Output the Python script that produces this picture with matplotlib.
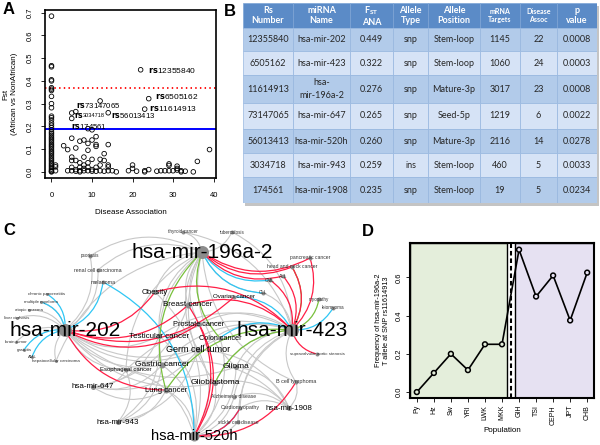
import numpy as np
import matplotlib.pyplot as plt
from matplotlib.patches import Rectangle, FancyArrowPatch

plt.rcParams['font.family'] = ['Liberation Sans', 'DejaVu Sans']

# ---------------- data ----------------
# panel B table (also the labelled points of panel A)
rs_number = ['12355840', '6505162', '11614913', '73147065', '56013413', '3034718', '174561']
mirna_name = ['hsa-mir-202', 'hsa-mir-423', 'hsa-\nmir-196a-2', 'hsa-mir-647',
              'hsa-mir-520h', 'hsa-mir-943', 'hsa-mir-1908']
fst_ana = [0.449, 0.322, 0.276, 0.265, 0.260, 0.259, 0.235]
allele_type = ['snp', 'snp', 'snp', 'snp', 'snp', 'ins', 'snp']
allele_pos = ['Stem-loop', 'Stem-loop', 'Mature-3p', 'Seed-5p', 'Mature-3p', 'Stem-loop', 'Stem-loop']
mrna_targets = [1145, 1060, 3017, 1219, 2116, 460, 19]
disease_assoc = [22, 24, 23, 6, 14, 5, 5]
p_value = ['0.0008', '0.0003', '0.0008', '0.0022', '0.0278', '0.0033', '0.0234']
table_header = ['Rs\nNumber', 'miRNA\nName', 'F$_{\\mathregular{ST}}$\nANA', 'Allele\nType',
                'Allele\nPosition', 'mRNA\nTargets', 'Disease\nAssoc', 'p\nvalue']

# panel A: remaining SNPs
fst_zero_assoc = [0.685, 0.467, 0.462, 0.405, 0.400, 0.370, 0.364, 0.358, 0.332, 0.300,
                  0.282, 0.245, 0.238, 0.228, 0.215, 0.205, 0.195, 0.185, 0.175, 0.168,
                  0.160, 0.152, 0.145, 0.138, 0.130, 0.122, 0.115, 0.108, 0.100, 0.092,
                  0.085, 0.078, 0.070, 0.062, 0.055, 0.048, 0.040, 0.033, 0.026, 0.019,
                  0.012, 0.006, 0.002, 0.0]
assoc_other = [1, 1, 1, 3, 4, 4, 5, 5, 5, 5, 5, 6, 6, 6, 6, 7, 7, 7, 7, 7,
               8, 8, 8, 8, 8, 9, 9, 9, 9, 9, 9, 10, 10, 10, 10, 10, 11, 11, 11, 11, 11,
               12, 12, 12, 12, 13, 13, 13, 14, 14, 14, 14, 15, 16, 19, 20, 20, 21,
               23, 23, 24, 26, 27, 28, 29, 29, 29, 30, 31, 31, 31, 32, 32, 33, 35, 36, 39]
fst_other = [0.030, 0.022, 0.005, 0.115, 0.098, 0.005, 0.148, 0.065, 0.050, 0.020, 0.005,
             0.105, 0.050, 0.010, 0.003, 0.135, 0.040, 0.020, 0.005, 0.000,
             0.140, 0.065, 0.030, 0.015, 0.005, 0.190, 0.125, 0.095, 0.040, 0.020, 0.005,
             0.185, 0.140, 0.055, 0.010, 0.003, 0.155, 0.120, 0.112, 0.020, 0.003,
             0.312, 0.055, 0.030, 0.005, 0.080, 0.050, 0.003, 0.120, 0.030, 0.022, 0.005,
             0.005, 0.000, 0.005, 0.030, 0.015, 0.003,
             0.005, 0.000, 0.010, 0.003, 0.005, 0.005, 0.035, 0.028, 0.005, 0.005,
             0.025, 0.015, 0.008, 0.005, 0.000, 0.003, 0.000, 0.046, 0.098]
fst_mean = 0.187
fst_cut = 0.367

# panel D
populations = ['Py', 'Hz', 'Sw', 'YRI', 'LWK', 'MKK', 'GIH', 'TSI', 'CEPH', 'JPT', 'CHB']
t_freq = [0.0, 0.10, 0.20, 0.115, 0.25, 0.25, 0.745, 0.50, 0.61, 0.375, 0.625]
n_african = 6

# panel C network
edges_red = [('hsa-mir-202', 'Obesity'), ('hsa-mir-202', 'Breast cancer'),
             ('hsa-mir-202', 'Prostate cancer'), ('hsa-mir-202', 'Ovarian cancer'),
             ('hsa-mir-202', 'Lung cancer'),
             ('hsa-mir-196a-2', 'pancreatic cancer'), ('hsa-mir-196a-2', 'ALL'),
             ('hsa-mir-196a-2', 'head and neck cancer'),
             ('hsa-mir-423', 'pancreatic cancer'), ('hsa-mir-423', 'head and neck cancer'),
             ('hsa-mir-423', 'ALL'), ('hsa-mir-423', 'CML'),
             ('hsa-mir-423', 'supravalvular aortic stenosis'), ('hsa-mir-423', 'Breast cancer'),
             ('hsa-mir-423', 'Obesity'),
             ('hsa-mir-520h', 'Cardiomyopathy'), ('hsa-mir-520h', 'B cell lymphoma'),
             ('hsa-mir-520h', 'Breast cancer'), ('hsa-mir-520h', 'Prostate cancer')]
edges_blue = [('hsa-mir-202', 'chronic pancreatitis'), ('hsa-mir-202', 'multiple myeloma'),
              ('hsa-mir-202', 'melanoma'), ('hsa-mir-202', 'gastritis'), ('hsa-mir-202', 'AML'),
              ('hsa-mir-520h', 'melanoma'), ('hsa-mir-520h', 'Cardiomyopathy'),
              ('hsa-mir-196a-2', 'CML'), ('hsa-mir-196a-2', 'CLL'),
              ('hsa-mir-423', 'leiomyoma'), ('hsa-mir-423', 'Ovarian cancer'),
              ('hsa-mir-423', 'Colon cancer')]
edges_green = [('hsa-mir-196a-2', 'Colon cancer'), ('hsa-mir-196a-2', 'Lung cancer'),
               ('hsa-mir-423', 'head and neck cancer'), ('hsa-mir-423', 'myopathy'),
               ('hsa-mir-423', 'Lung cancer'), ('hsa-mir-423', 'Glioblastoma')]
gray_links = {
    'hsa-mir-196a-2': ['psoriasis', 'renal cell carcinoma', 'thyroid cancer', 'tuberculosis',
                       'Obesity', 'Breast cancer', 'Testicular cancer', 'Gastric cancer',
                       'Germ cell tumor', 'Esophageal cancer', 'Glioma', 'Glioblastoma',
                       'Prostate cancer', 'hepatocellular carcinoma', 'CLL', 'B cell lymphoma'],
    'hsa-mir-202': ['psoriasis', 'renal cell carcinoma', 'atopic eczema', 'liver cirrhosis',
                    'brain tumor', 'hepatocellular carcinoma', 'Testicular cancer',
                    'Germ cell tumor', 'Gastric cancer', 'Esophageal cancer', 'Glioma',
                    'Colon cancer', 'Glioblastoma', 'multiple myeloma'],
    'hsa-mir-423': ['Testicular cancer', 'Germ cell tumor', 'Gastric cancer', 'Glioma',
                    'Glioblastoma', 'Cardiomyopathy', "Alzheimer's disease",
                    'sickle cell disease', 'B cell lymphoma', 'Prostate cancer',
                    'thyroid cancer', 'tuberculosis', 'CLL', 'Esophageal cancer'],
    'hsa-mir-520h': ['Lung cancer', 'Gastric cancer', 'Esophageal cancer', 'Germ cell tumor',
                     'Testicular cancer', 'Glioma', 'Glioblastoma', 'sickle cell disease',
                     "Alzheimer's disease", 'Colon cancer', 'Obesity'],
    'hsa-mir-647': ['Gastric cancer', 'Esophageal cancer', 'Lung cancer', 'Testicular cancer',
                    'Germ cell tumor', 'Breast cancer'],
    'hsa-mir-943': ['Lung cancer', 'Gastric cancer', 'Esophageal cancer', 'Germ cell tumor',
                    'Testicular cancer'],
    'hsa-mir-1908': ['B cell lymphoma', 'Glioma', 'Germ cell tumor', 'Cardiomyopathy',
                     "Alzheimer's disease", 'Glioblastoma', 'Gastric cancer'],
}

# ---------------- layout (pixel space of the 600x445 figure) ----------------
# name: (x, y, label size pt, node diameter px)
layout = {
    'hsa-mir-196a-2': (202, 252, 15, 13), 'hsa-mir-202': (65, 330, 15, 13),
    'hsa-mir-423': (292, 330, 15, 13), 'hsa-mir-520h': (194, 436, 10.5, 10),
    'hsa-mir-647': (93, 387, 5.8, 5), 'hsa-mir-943': (118, 422, 5.8, 5),
    'hsa-mir-1908': (289, 408, 5.8, 5),
    'Obesity': (155, 292, 5.5, 5), 'Breast cancer': (188, 305, 5.8, 6),
    'Prostate cancer': (199, 324, 5.3, 5), 'Ovarian cancer': (234, 297, 4.5, 4),
    'Colon cancer': (220, 338, 5.2, 5), 'Testicular cancer': (159, 336, 5.8, 5),
    'Germ cell tumor': (198, 350, 6.5, 5), 'Gastric cancer': (162, 365, 6.0, 6),
    'Esophageal cancer': (126, 370, 4.3, 4), 'Lung cancer': (166, 390, 5.5, 6),
    'Glioma': (236, 367, 6.0, 5), 'Glioblastoma': (215, 383, 6.0, 5),
    "Alzheimer's disease": (234, 397, 3.6, 4), 'Cardiomyopathy': (240, 408, 3.8, 4),
    'sickle cell disease': (238, 422, 3.6, 4), 'B cell lymphoma': (296, 382, 4.0, 4),
    'supravalvular aortic stenosis': (317, 354, 3.2, 4), 'myopathy': (319, 299, 3.3, 4),
    'leiomyoma': (333, 308, 3.3, 4), 'pancreatic cancer': (310, 258, 3.6, 4),
    'head and neck cancer': (292, 267, 3.6, 4), 'ALL': (283, 276, 3.3, 4),
    'CML': (270, 280, 3.3, 4), 'CLL': (263, 293, 3.3, 4),
    'thyroid cancer': (183, 232, 3.3, 4), 'tuberculosis': (232, 232, 3.3, 4),
    'psoriasis': (90, 256, 3.3, 4), 'renal cell carcinoma': (98, 270, 3.8, 4),
    'melanoma': (103, 282, 3.8, 4), 'chronic pancreatitis': (47, 294, 3.2, 3),
    'multiple myeloma': (41, 302, 3.2, 3), 'atopic eczema': (29, 310, 3.2, 3),
    'liver cirrhosis': (17, 318, 3.2, 3), 'brain tumor': (16, 342, 3.2, 3),
    'gastritis': (24, 350, 3.2, 3), 'AML': (32, 357, 3.2, 3),
    'hepatocellular carcinoma': (56, 361, 3.2, 3),
}

W, H = 600, 445
fig = plt.figure(figsize=(W / 100, H / 100), dpi=100)


def box(x0, y0, x1, y1):
    # axes from pixel corners, origin top-left
    return fig.add_axes([x0 / W, 1 - y1 / H, (x1 - x0) / W, (y1 - y0) / H])


# ---------------- C: network ----------------
axC = fig.add_axes([0, 0, 1, 1])
axC.set_xlim(0, W)
axC.set_ylim(H, 0)
axC.axis('off')

edge_sets = [([(m, d) for m, ds in gray_links.items() for d in ds], '#c8c8c8', 0.8),
             (edges_blue, '#2fc6f4', 0.9), (edges_green, '#78c03c', 0.9),
             (edges_red, '#ff1e46', 0.9)]
for elist, col, lw in edge_sets:
    for a, b in elist:
        pa, pb = layout[a][:2], layout[b][:2]
        axC.add_patch(FancyArrowPatch(pa, pb, arrowstyle='-', connectionstyle='arc3,rad=0.3',
                                      color=col, lw=lw, shrinkA=0, shrinkB=0, zorder=1))

for name, (x, y, fs, d) in layout.items():
    axC.scatter([x], [y], s=(d * 0.72) ** 2, color='#8c8c8c', lw=0, zorder=2)
for name, (x, y, fs, d) in layout.items():
    axC.text(x, y, name, fontsize=fs, ha='center', va='center',
             color='black' if fs > 4.2 else '#333333', zorder=3)

# ---------------- A: scatter ----------------
axA = box(45, 10, 216, 178)
axA.scatter(np.zeros(len(fst_zero_assoc)), fst_zero_assoc, s=11, facecolors='none',
            edgecolors='black', linewidths=0.6, zorder=3)
axA.scatter(assoc_other, fst_other, s=11, facecolors='none', edgecolors='black',
            linewidths=0.6, zorder=3)
axA.scatter(disease_assoc, fst_ana, s=11, facecolors='none', edgecolors='black',
            linewidths=0.6, zorder=3)
axA.axhline(fst_mean, color='#0000ff', lw=1.4, zorder=2)
axA.axhline(fst_cut, color='#ff0000', lw=1.3, ls=(0, (0.8, 1.8)), zorder=2)

label_offsets = [(5, 0), (4.5, 2), (3, 0.5), (0.5, 4.6), (2, -1.3), (1.5, -1.4), (-0.5, -5.2)]
for i, rs in enumerate(rs_number):
    dx, dy = label_offsets[i]
    small = rs == '3034718'
    axA.annotate(r'$\mathbf{rs}$' + ('' if small else rs),
                 (disease_assoc[i], fst_ana[i]), xytext=(dx, dy), textcoords='offset points',
                 fontsize=5.6 if i > 2 else 6, va='center', ha='left')
    if small:
        axA.annotate(rs, (disease_assoc[i], fst_ana[i]), xytext=(dx + 6.6, dy - 0.3),
                     textcoords='offset points', fontsize=4.0, va='center', ha='left')

axA.set_xlim(-1.6, 40.6)
axA.set_ylim(-0.027, 0.712)
axA.set_xticks([0, 10, 20, 30, 40])
axA.set_yticks(np.arange(0, 0.71, 0.1))
axA.set_yticklabels([f'{v:.1f}' for v in np.arange(0, 0.71, 0.1)], rotation=90, va='center')
axA.tick_params(labelsize=5.5, length=3, width=0.6, pad=5)
axA.tick_params(axis='x', pad=7)
for s in axA.spines.values():
    s.set_linewidth(1.2)
axA.set_xlabel('Disease Association', fontsize=5.8, labelpad=7)
axA.set_ylabel('Fst\n(African vs NonAfrican)', fontsize=5.8)
axA.yaxis.set_label_coords(-0.16, 0.5)

# ---------------- B: table ----------------
col_w = [50, 57, 43, 35, 52, 40, 37, 40]
row_h = [25, 23, 24, 28, 26, 24, 24, 26]
xb = np.concatenate([[0], np.cumsum(col_w)])
yb = np.concatenate([[0], np.cumsum(row_h)])
axB = box(243, 3, 243 + xb[-1], 3 + yb[-1])
axB.set_xlim(0, xb[-1])
axB.set_ylim(yb[-1], 0)
axB.axis('off')
axB.add_patch(Rectangle((2, 3), xb[-1], yb[-1], fc='#c4c4c4', ec='none', clip_on=False, zorder=0))

rows = list(zip(rs_number, mirna_name, [f'{v:.3f}' for v in fst_ana], allele_type,
                allele_pos, [str(v) for v in mrna_targets], [str(v) for v in disease_assoc],
                p_value))
tfont = ['Lato', 'DejaVu Sans']
for j, h in enumerate(table_header):
    axB.add_patch(Rectangle((xb[j], yb[0]), col_w[j], row_h[0], fc='#5b8bc7',
                            ec='#7ea5d6', lw=0.5, zorder=1))
    axB.text(xb[j] + col_w[j] / 2, row_h[0] / 2, h, ha='center', va='center', color='white',
             fontweight='bold', fontsize=5 if j in (5, 6) else 6.5, family=tfont,
             linespacing=1.1, zorder=2)
for i, r in enumerate(rows):
    fc = '#b2cbea' if i % 2 == 0 else '#d6e3f6'
    for j, val in enumerate(r):
        axB.add_patch(Rectangle((xb[j], yb[i + 1]), col_w[j], row_h[i + 1], fc=fc,
                                ec='#97b7e0', lw=0.5, zorder=1))
        axB.text(xb[j] + col_w[j] / 2, yb[i + 1] + row_h[i + 1] / 2, val, ha='center',
                 va='center', fontsize=6.5, color='#262626', family=tfont, linespacing=1.5,
                 zorder=2)

# ---------------- D: allele frequency by population ----------------
axD = box(410, 243, 594, 398)
xs = np.arange(len(populations))
x_lo, x_hi, y_lo, y_hi = -0.4, 10.4, -0.031, 0.78
axD.set_xlim(x_lo, x_hi)
axD.set_ylim(y_lo, y_hi)
axD.add_patch(Rectangle((x_lo, y_lo), 5.3 - x_lo, y_hi - y_lo, fc='#e4eedb', ec='black',
                        lw=1.0, zorder=0))
axD.add_patch(Rectangle((5.75, y_lo), x_hi - 5.75, y_hi - y_lo, fc='#e6e1f2', ec='black',
                        lw=1.0, zorder=0))
axD.axvline(n_african - 0.5, color='black', lw=1.5, ls=(0, (2.2, 1.4)), zorder=1)
axD.plot(xs, t_freq, color='black', lw=1.2, zorder=2)
faces = ['#e4eedb' if i < n_african else '#e6e1f2' for i in xs]
axD.scatter(xs, t_freq, s=12, facecolors=faces, edgecolors='black', linewidths=1.1, zorder=3)
axD.set_xticks(xs)
axD.set_xticklabels(populations, rotation=90, fontsize=5)
axD.set_yticks([0, 0.2, 0.4, 0.6])
axD.set_yticklabels(['0.0', '0.2', '0.4', '0.6'], rotation=90, va='center', fontsize=5.5)
axD.tick_params(length=3, width=0.6, pad=2)
for s in axD.spines.values():
    s.set_linewidth(1.5)
axD.set_xlabel('Population', fontsize=5.8, labelpad=2)
axD.set_ylabel('Frequency of hsa-mir-196a-2\nT allele at SNP rs11614913', fontsize=5.2,
               linespacing=1.2)

# panel letters
for letter, (lx, ly) in zip('ABCD', [(9, 9), (230, 11), (9, 230), (368, 231)]):
    fig.text(lx / W, 1 - ly / H, letter, fontsize=12, fontweight='bold',
             ha='center', va='center')

fig.savefig('out.png', dpi=100)
